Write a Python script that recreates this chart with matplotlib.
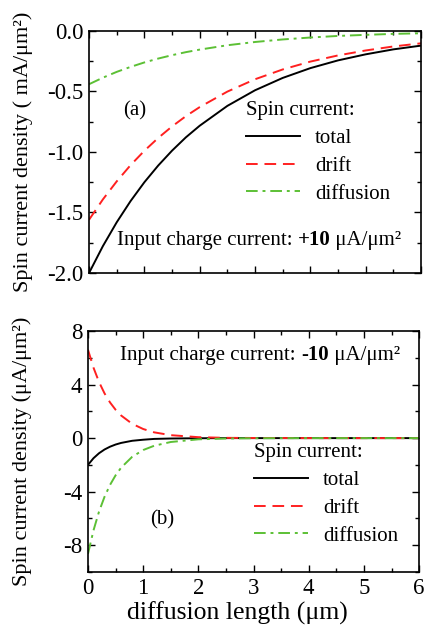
import matplotlib
matplotlib.use("Agg")
import matplotlib.pyplot as plt
from matplotlib.ticker import MultipleLocator
from matplotlib.offsetbox import TextArea, HPacker, AnchoredOffsetbox

plt.rcParams['font.family'] = ['Liberation Serif', 'DejaVu Serif']
plt.rcParams['mathtext.fontset'] = 'custom'
plt.rcParams['mathtext.rm'] = 'Liberation Serif'
plt.rcParams['mathtext.bf'] = 'Liberation Serif:bold'
plt.rcParams['axes.unicode_minus'] = False

# ---- panel (a) data ----
x_a = [0, 0.25, 0.5, 0.75, 1.0, 1.25, 1.5, 1.75, 2.0, 2.5, 3.0, 3.5, 4.0, 4.5, 5.0, 5.5, 6.0]
total_a = [-2.000, -1.778, -1.581, -1.406, -1.250, -1.112, -0.989, -0.879, -0.783,
           -0.619, -0.490, -0.388, -0.307, -0.243, -0.193, -0.152, -0.121]
drift_a = [-1.560, -1.392, -1.243, -1.109, -0.990, -0.884, -0.789, -0.704, -0.629,
           -0.501, -0.399, -0.318, -0.253, -0.202, -0.161, -0.128, -0.102]
diff_a = [-0.440, -0.386, -0.338, -0.297, -0.260, -0.228, -0.200, -0.175, -0.154,
          -0.118, -0.091, -0.070, -0.054, -0.041, -0.032, -0.024, -0.019]

# ---- panel (b) data ----
x_b = [0, 0.1, 0.2, 0.3, 0.4, 0.5, 0.6, 0.8, 1.0, 1.2, 1.5, 2.0, 2.5, 3.0, 4.0, 5.0, 6.0]
total_b = [-2.00, -1.50, -1.13, -0.85, -0.64, -0.48, -0.36, -0.20, -0.12, -0.06,
           -0.03, -0.01, 0.0, 0.0, 0.0, 0.0, 0.0]
drift_b = [6.60, 5.26, 4.19, 3.34, 2.66, 2.12, 1.69, 1.07, 0.68, 0.43,
           0.22, 0.07, 0.02, 0.01, 0.0, 0.0, 0.0]
diff_b = [-8.65, -6.89, -5.49, -4.38, -3.49, -2.78, -2.21, -1.40, -0.89, -0.57,
          -0.29, -0.09, -0.03, -0.01, 0.0, 0.0, 0.0]

labels = ["total", "drift", "diffusion"]
xticks_b = [0, 1, 2, 3, 4, 5, 6]
yticks_a = [0.0, -0.5, -1.0, -1.5, -2.0]
yticks_b = [8, 4, 0, -4, -8]

RED = '#ff2020'
GREEN = '#5cc035'
styles = [dict(color='black', lw=1.4, ls='-'),
          dict(color=RED, lw=1.4, ls=(0, (6, 3.5))),
          dict(color=GREEN, lw=1.4, ls=(0, (6, 2.5, 1.5, 2.5)))]

TICK_FS = 16.5
LAB_FS = 16
TXT_FS = 15

fig = plt.figure(figsize=(4.24, 6.27), dpi=100)
ax1 = fig.add_axes([0.21, 0.5646, 0.783, 0.386])
ax2 = fig.add_axes([0.2075, 0.0877, 0.781, 0.3844])

for ax in (ax1, ax2):
    for s in ax.spines.values():
        s.set_linewidth(1.2)
    ax.tick_params(which='both', direction='in', top=True, right=True, width=1.0,
                   labelsize=TICK_FS, pad=4)
    ax.tick_params(which='major', length=5)
    ax.tick_params(which='minor', length=3)


def rich_text(ax, x, y, parts, fs):
    children = [TextArea(t, textprops=dict(fontsize=fs, fontweight=w)) for t, w in parts]
    box = HPacker(children=children, pad=0, sep=0, align='baseline')
    anc = AnchoredOffsetbox(loc='center', child=box, pad=0, borderpad=0,
                            bbox_to_anchor=(x, y), bbox_transform=ax.transAxes,
                            frameon=False)
    ax.add_artist(anc)


# panel (a)
for y, lab, st in zip([total_a, drift_a, diff_a], labels, styles):
    ax1.plot(x_a, y, label=lab, **st)
ax1.set_xlim(0, 6)
ax1.set_ylim(-2.0, 0.0)
ax1.xaxis.set_major_locator(MultipleLocator(1))
ax1.xaxis.set_minor_locator(MultipleLocator(0.5))
ax1.set_yticks(yticks_a)
ax1.set_yticklabels(["%.1f" % v for v in yticks_a])
ax1.yaxis.set_minor_locator(MultipleLocator(0.25))
ax1.tick_params(axis='x', which='both', labelbottom=False)
ax1.set_ylabel("Spin current density ( mA/μm²)", fontsize=LAB_FS)
ax1.yaxis.set_label_coords(-0.17, 0.5)
ax1.text((135 - 89) / 332, (273 - 111) / 242, "(a)", transform=ax1.transAxes,
         fontsize=TXT_FS, ha='center', va='center')
rich_text(ax1, (259 - 89) / 332, (273 - 240) / 242,
          [("Input charge current: ", 'normal'), ("+10", 'bold'), (" μA/μm²", 'normal')],
          TXT_FS)
leg1 = ax1.legend(loc='upper left', bbox_to_anchor=((246 - 89) / 332, (273 - 101) / 242),
                  frameon=False, title="Spin current:", fontsize=TXT_FS,
                  title_fontsize=TXT_FS, handlelength=2.6, handletextpad=0.7,
                  labelspacing=0.4, borderaxespad=0, borderpad=0)
leg1._legend_box.align = "left"

# panel (b)
for y, lab, st in zip([total_b, drift_b, diff_b], labels, styles):
    ax2.plot(x_b, y, label=lab, **st)
ax2.set_xlim(0, 6)
ax2.set_ylim(-10, 8)
ax2.set_xticks(xticks_b)
ax2.xaxis.set_minor_locator(MultipleLocator(0.5))
ax2.set_yticks(yticks_b)
ax2.yaxis.set_minor_locator(MultipleLocator(2))
ax2.set_ylabel("Spin current density (μA/μm²)", fontsize=LAB_FS)
ax2.yaxis.set_label_coords(-0.17, 0.5)
ax2.set_xlabel("diffusion length (μm)", fontsize=18.5)
ax2.xaxis.set_label_coords((237 - 88) / 331, -0.122)
ax2.text((162 - 88) / 331, (572 - 520) / 241, "(b)", transform=ax2.transAxes,
         fontsize=TXT_FS, ha='center', va='center')
rich_text(ax2, (260 - 88) / 331, (572 - 355) / 241,
          [("Input charge current: ", 'normal'), ("-10", 'bold'), (" μA/μm²", 'normal')],
          TXT_FS)
leg2 = ax2.legend(loc='upper left', bbox_to_anchor=((254 - 88) / 331, (572 - 443) / 241),
                  frameon=False, title="Spin current:", fontsize=TXT_FS,
                  title_fontsize=TXT_FS, handlelength=2.6, handletextpad=0.7,
                  labelspacing=0.4, borderaxespad=0, borderpad=0)
leg2._legend_box.align = "left"

fig.savefig("out.png", dpi=100)
